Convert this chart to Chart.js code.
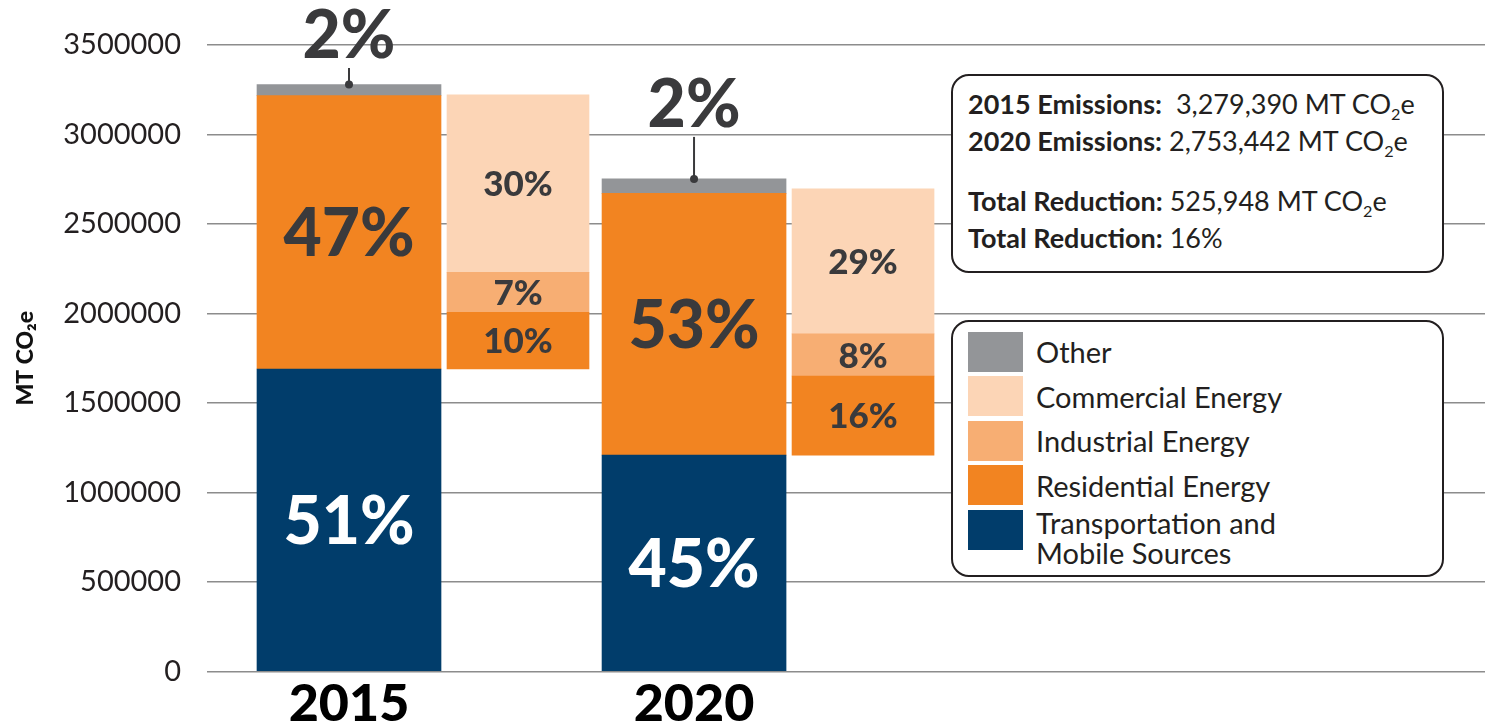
<!DOCTYPE html>
<html>
<head>
<meta charset="utf-8">
<script src="https://cdn.jsdelivr.net/npm/chart.js@4.4.1/dist/chart.umd.min.js"></script>
<style>
  html, body { margin: 0; padding: 0; background: #fff; overflow: hidden; }
  #wrap { position: relative; width: 1485px; height: 726px; }
  .box {
    position: absolute; background: #fff; border: 2.5px solid #231f20; border-radius: 18px;
    box-sizing: border-box; font-family: Lato, 'Open Sans', sans-serif; color: #231f20;
  }
  #summary { left: 951px; top: 74px; width: 493px; height: 199px; padding: 9px 0 0 15px; font-size: 27px; line-height: 37px; white-space: nowrap; }
  #summary b { font-weight: 700; }
  #summary .gap { height: 23px; }
  #legend { left: 951px; top: 320px; width: 493px; height: 257px; padding: 7.5px 0 0 15px; font-size: 29px; }
  .row { display: flex; align-items: center; height: 44.5px; }
  .sw { width: 55px; height: 40px; margin-right: 13px; flex: none; }
  .row.two { height: 62px; align-items: flex-start; }
  .row.two .sw { margin-top: 2px; }
  .row.two .lbl { line-height: 30px; }
  sub { font-size: 0.6em; vertical-align: -0.4em; line-height: 0; }
</style>
</head>
<body>
<div id="wrap">
  <canvas id="chart" width="1485" height="726"></canvas>
  <div id="summary" class="box"></div>
  <div id="legend" class="box"></div>
</div>
<script>
const years = ['2015', '2020'];
const totals = [3279390, 2753442];

// main bar segments
const transport = [1690000, 1209000];
const energy = [1527000, 1462000];
const other = [62000, 81000];

// energy breakdown segments
const residential = [317000, 442000];
const industrial = [223000, 235000];
const commercial = [991000, 810000];

// percent labels as printed
const transportPct = ['51%', '45%'];
const energyPct = ['47%', '53%'];
const otherPct = ['2%', '2%'];
const residentialPct = ['10%', '16%'];
const industrialPct = ['7%', '8%'];
const commercialPct = ['30%', '29%'];

const yMax = 3500000;
const yStep = 500000;

const NAVY = '#013d6b';
const ORANGE = '#f28421';
const IND = '#f7ae73';
const COM = '#fcd5b6';
const GRAY = '#939598';
const DARK = '#3a3a3c';

const legendItems = [
  { label: 'Other', color: GRAY },
  { label: 'Commercial Energy', color: COM },
  { label: 'Industrial Energy', color: IND },
  { label: 'Residential Energy', color: ORANGE },
  { label: 'Transportation and<br>Mobile Sources', color: NAVY }
];

const mainBar = { stack: 'main', barThickness: 188, maxBarThickness: 184, borderWidth: 0 };
const detailBar = { stack: 'detail', barThickness: 150, maxBarThickness: 142, borderWidth: 0 };

const datasets = [
  { ...mainBar, label: 'Transportation and Mobile Sources', data: transport, backgroundColor: NAVY,
    pct: transportPct, pctColor: '#ffffff', pctSize: 66 },
  { ...mainBar, label: 'Energy', data: energy, backgroundColor: ORANGE,
    pct: energyPct, pctColor: DARK, pctSize: 66 },
  { ...mainBar, label: 'Other', data: other, backgroundColor: GRAY,
    pct: otherPct, pctColor: DARK, pctSize: 66, callout: true },
  { ...detailBar, label: 'base', data: transport, backgroundColor: 'rgba(0,0,0,0)' },
  { ...detailBar, label: 'Residential Energy', data: residential, backgroundColor: ORANGE,
    pct: residentialPct, pctColor: DARK, pctSize: 35 },
  { ...detailBar, label: 'Industrial Energy', data: industrial, backgroundColor: IND,
    pct: industrialPct, pctColor: DARK, pctSize: 35 },
  { ...detailBar, label: 'Commercial Energy', data: commercial, backgroundColor: COM,
    pct: commercialPct, pctColor: DARK, pctSize: 35 }
];

const pctLabels = {
  id: 'pctLabels',
  afterDatasetsDraw(chart) {
    const ctx = chart.ctx;
    ctx.save();
    ctx.textAlign = 'center';
    ctx.textBaseline = 'alphabetic';
    chart.data.datasets.forEach((ds, i) => {
      if (!ds.pct) return;
      const meta = chart.getDatasetMeta(i);
      meta.data.forEach((bar, j) => {
        ctx.font = '900 ' + ds.pctSize + 'px Lato';
        ctx.fillStyle = ds.pctColor;
        const cap = ds.pctSize * 0.72;
        if (ds.callout) {
          const base = Math.max(bar.y - 52, 58);
          ctx.fillText(ds.pct[j], bar.x, base);
          ctx.strokeStyle = DARK;
          ctx.lineWidth = 2;
          ctx.beginPath();
          ctx.moveTo(bar.x, base + 10);
          ctx.lineTo(bar.x, bar.y);
          ctx.stroke();
          ctx.beginPath();
          ctx.arc(bar.x, bar.y, 4, 0, Math.PI * 2);
          ctx.fill();
        } else {
          const mid = (bar.y + bar.base) / 2;
          ctx.fillText(ds.pct[j], bar.x, mid + cap / 2);
        }
      });
    });
    ctx.restore();
  }
};

new Chart(document.getElementById('chart'), {
  type: 'bar',
  data: { labels: years, datasets: datasets },
  plugins: [pctLabels],
  options: {
    responsive: false,
    animation: false,
    devicePixelRatio: 1,
    layout: { padding: { top: 45, right: 0, bottom: 0, left: 0 } },
    plugins: { legend: { display: false }, tooltip: { enabled: false } },
    scales: {
      x: {
        type: 'linear',
        min: 2011.58,
        max: 2030.1,
        offset: false,
        grid: { display: false },
        border: { display: false },
        afterBuildTicks: (s) => { s.ticks = years.map(y => ({ value: +y })); },
        afterFit: (s) => { s.height = 54.5; },
        ticks: {
          callback: (v) => String(v),
          labelOffset: -94,
          padding: -6,
          autoSkip: false,
          maxRotation: 0,
          color: '#000',
          font: { family: 'Lato', size: 52, weight: '900' }
        }
      },
      y: {
        stacked: true,
        min: 0,
        max: yMax,
        z: 1,
        afterFit: (s) => { s.width = 207; },
        grid: { color: 'rgba(120,120,120,0.85)', lineWidth: 1.5, drawTicks: false },
        border: { display: false },
        ticks: {
          stepSize: yStep,
          padding: 26,
          color: '#231f20',
          callback: (v) => String(v),
          font: { family: 'Lato', size: 29 }
        },
        title: {
          display: true,
          text: 'MT CO₂e',
          color: '#111',
          padding: { top: 12, bottom: 0 },
          font: { family: 'Lato', size: 23, weight: '900', lineHeight: 1.2 }
        }
      }
    }
  }
});

const fmt = (n) => n.toLocaleString('en-US');
const reduction = totals[0] - totals[1];
const co2 = 'MT CO<sub>2</sub>e';
document.getElementById('summary').innerHTML =
  '<div><b>' + years[0] + ' Emissions:</b>&nbsp; ' + fmt(totals[0]) + ' ' + co2 + '</div>' +
  '<div><b>' + years[1] + ' Emissions:</b> ' + fmt(totals[1]) + ' ' + co2 + '</div>' +
  '<div class="gap"></div>' +
  '<div><b>Total Reduction:</b> ' + fmt(reduction) + ' ' + co2 + '</div>' +
  '<div><b>Total Reduction:</b> ' + Math.round(reduction / totals[0] * 100) + '%</div>';

document.getElementById('legend').innerHTML = legendItems.map((it) => {
  const two = it.label.indexOf('<br>') >= 0;
  return '<div class="row' + (two ? ' two' : '') + '"><div class="sw" style="background:' + it.color +
    '"></div><div class="lbl">' + it.label + '</div></div>';
}).join('');
</script>
</body>
</html>
